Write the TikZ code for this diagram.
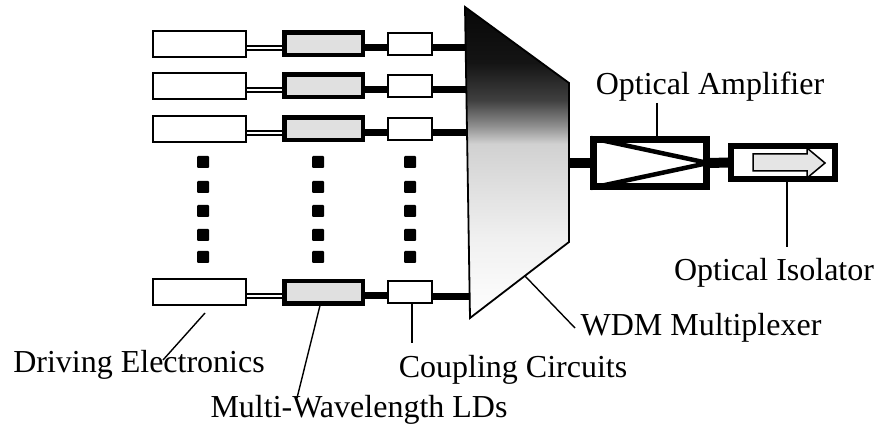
\documentclass[tikz,border=0pt]{standalone}
\usepackage{fontspec}
\setmainfont{Liberation Serif}
\usetikzlibrary{calc}
\pgfdeclareverticalshading{muxshade}{100bp}{color(0bp)=(white); color(25bp)=(white); color(38bp)=(black!6); color(53bp)=(black!18); color(56bp)=(black!45); color(60bp)=(black!75); color(66bp)=(black!92); color(75bp)=(black!97); color(100bp)=(black!97)}
\tikzset{
  drvbox/.style={draw, line width=2pt, fill=white, inner sep=0pt, minimum width=93pt, minimum height=26pt},
  ldbox/.style={draw, line width=4.5pt, fill=black!12, inner sep=0pt, minimum width=78.5pt, minimum height=22.5pt},
  cpbox/.style={draw, line width=2pt, fill=white, inner sep=0pt, minimum width=44pt, minimum height=22pt},
  dbl/.style={double, double distance=2.6pt, line width=1.4pt},
  thick6/.style={line width=7pt},
  fibre/.style={line width=10pt},
  dotsq/.style={fill=black, inner sep=0pt, minimum size=12pt, rounded corners=1pt},
  lbl/.style={inner sep=0pt, anchor=base, font=\fontsize{32}{38}\selectfont},
  leader/.style={line width=1.4pt}
}
\begin{document}
\begin{tikzpicture}[x=1pt,y=-1pt]
\useasboundingbox (0,0) rectangle (882,427);
% mux coordinates
\coordinate (mtl) at (465,7);
\coordinate (mtr) at (569,83);
\coordinate (mbr) at (569,242);
\coordinate (mbl) at (470,318);
\coordinate (mleft) at (470,0);
\coordinate (mout) at (566,163);
% rows
\foreach \i/\y in {1/44,2/86,3/129,4/292}{
  \node[drvbox] (d\i) at (199.5,\y) {};
  \node[ldbox] (l\i) at (323.5,\y) {};
  \node[cpbox] (c\i) at (410,\y) {};
  \draw[dbl] ([yshift=-4pt]d\i.east) -- ([yshift=-4pt]l\i.west);
  \draw[thick6] ([yshift=-3.5pt]l\i.east) -- ([yshift=-3.5pt]c\i.west);
  \draw[thick6] ([yshift=-4pt]c\i.east) -- ([yshift=-4pt]c\i.east -| mleft);
}
% redraw LD boxes on top of connectors
\foreach \i/\y in {1/44,2/86,3/129,4/292}{
  \node[ldbox] at (l\i) {};
}
% dots
\foreach \x/\n in {203/a,318/b,410/c}{
  \foreach \y/\m in {162/1,187/2,211/3,235/4,257/5}{
    \node[dotsq] (dot\n\m) at (\x,\y) {};
  }
}
% optical output chain
\node[draw, line width=7pt, fill=white, inner sep=0pt, minimum width=113pt, minimum height=47pt] (amp) at (650,163) {};
\node[draw, line width=6pt, fill=white, inner sep=0pt, minimum width=104pt, minimum height=33pt] (iso) at (783,162.5) {};
\draw[fibre] (mout) -- (amp.west);
\draw[fibre] (amp.east) -- (iso.west);
\node[draw, line width=7pt, inner sep=0pt, minimum width=113pt, minimum height=47pt] at (amp) {};
\node[draw, line width=6pt, inner sep=0pt, minimum width=104pt, minimum height=33pt] at (iso) {};
% amplifier triangle
\draw[line width=4.5pt, line join=miter] ([xshift=1pt,yshift=-2pt]amp.north west) -- ([xshift=-2pt]amp.east) -- ([xshift=1pt,yshift=2pt]amp.south west);
% isolator arrow
\draw[line width=1.5pt, fill=black!10] (753,154) -- (807,154) -- (807,148) -- (825,163) -- (807,178) -- (807,171) -- (753,171) -- cycle;
% multiplexer
\shade[shading=muxshade] (mtl) -- (mtr) -- (mbr) -- (mbl) -- cycle;
\draw[line width=1.8pt, line join=miter] (mtl) -- (mtr) -- (mbr) -- (mbl) -- cycle;
% labels
\node[lbl] (amplab) at (710,95) {Optical Amplifier};
\node[lbl] (isolab) at (774,280) {Optical Isolator};
\node[lbl] (wdmlab) at (701,335) {WDM Multiplexer};
\node[lbl] (drvlab) at (139,372) {Driving Electronics};
\node[lbl] (ldlab) at (359,417) {Multi-Wavelength LDs};
\node[lbl] (cplab) at (513,377) {Coupling Circuits};
% leader ends
\coordinate (amptop) at (657,103);
\coordinate (isobot) at (787,247);
\coordinate (wdmend) at (575,328);
\coordinate (wdmstart) at (525,276);
\coordinate (drvend) at (163,360);
\coordinate (drvstart) at (205,313);
\coordinate (ldend) at (297,398);
\coordinate (cpend) at (412,343);
\draw[leader] (amptop) -- (amptop |- amp.north);
\draw[leader] (isobot |- iso.south) -- (isobot);
\draw[leader] (wdmstart) -- (wdmend);
\draw[leader] (drvstart) -- (drvend);
\draw[leader] ([xshift=-3.5pt]l4.south) -- (ldend);
\draw[leader] ([xshift=2pt]c4.south) -- (cpend);
\end{tikzpicture}
\end{document}
